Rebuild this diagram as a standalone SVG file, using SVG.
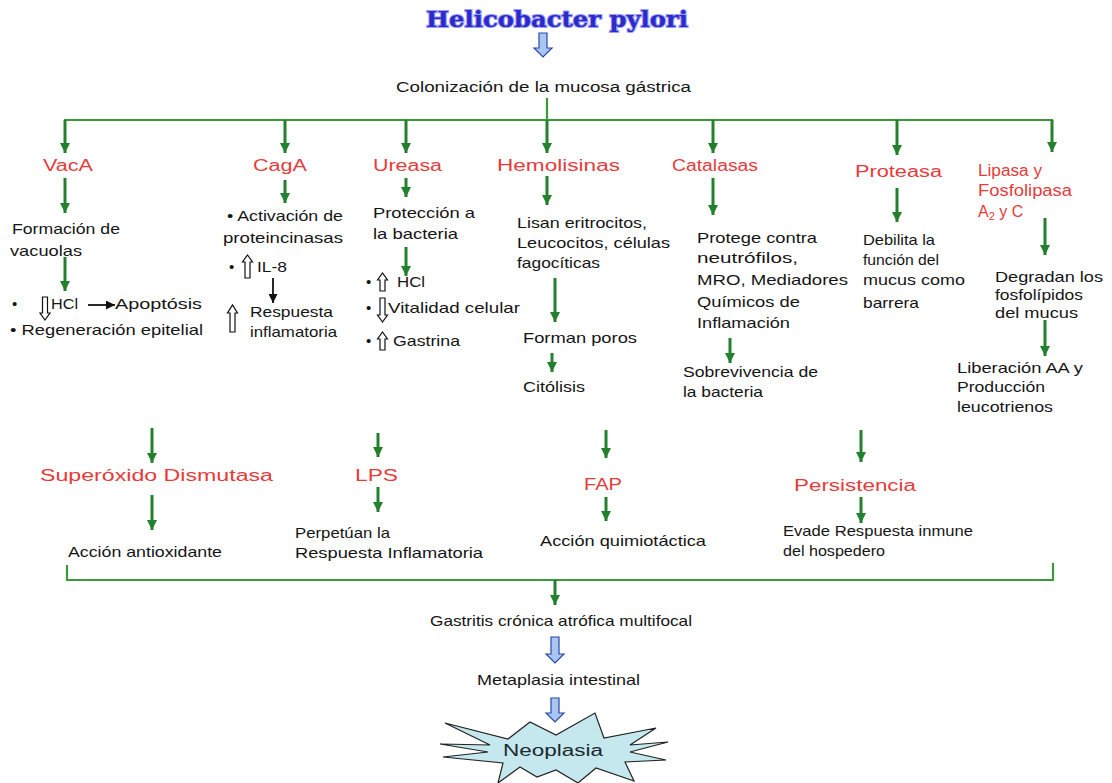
<svg xmlns="http://www.w3.org/2000/svg" width="1112" height="783" viewBox="0 0 1112 783">
<style>
.t{font-family:"Liberation Sans",Arial,sans-serif;font-size:15px;fill:#151515}
.r{font-family:"Liberation Sans",Arial,sans-serif;font-size:16px;fill:#e63b3b}
.g{stroke:#23802c;stroke-width:3;fill:none}
.gl{stroke:#3a9a3a;stroke-width:2.2;fill:none}
.k{stroke:#111;stroke-width:1.8;fill:none}
.ba{fill:#a9c6f2;stroke:#2a48a8;stroke-width:1.2}
.ha{fill:#fff;stroke:#111;stroke-width:1.2}
</style>
<defs>
<marker id="gh" viewBox="0 0 10 10" refX="10" refY="5" markerWidth="10" markerHeight="10" markerUnits="userSpaceOnUse" orient="auto"><path d="M0,0 L10,5 L0,10 z" fill="#23802c"/></marker>
<marker id="kh" viewBox="0 0 10 10" refX="10" refY="5" markerWidth="9" markerHeight="9" markerUnits="userSpaceOnUse" orient="auto"><path d="M0,0 L10,5 L0,10 z" fill="#111"/></marker>
</defs>
<rect width="1112" height="783" fill="#fff"/>

<g id="title">
<text x="426" y="27" textLength="262" lengthAdjust="spacingAndGlyphs" paint-order="stroke" style="font-family:'DejaVu Serif',serif;font-weight:bold;font-size:22px;fill:#2b2bc8;stroke:#9d9dff;stroke-width:2">Helicobacter pylori</text>
</g>
<g id="colonizacion">
<text class="t" x="396" y="92" textLength="295" lengthAdjust="spacingAndGlyphs" style="font-size:14px">Colonización de la mucosa gástrica</text>
</g>

<g id="connectors">
<polygon class="ba" points="539,33 547,33 547,48 552,48 543,57 534,48 539,48"/>
<line class="gl" x1="547" y1="98" x2="547" y2="120"/>
<line class="gl" x1="64" y1="120" x2="1053" y2="120"/>
<line class="g" x1="65" y1="120" x2="65" y2="153" marker-end="url(#gh)"/>
<line class="g" x1="285" y1="120" x2="285" y2="153" marker-end="url(#gh)"/>
<line class="g" x1="406" y1="120" x2="406" y2="153" marker-end="url(#gh)"/>
<line class="g" x1="547" y1="120" x2="547" y2="153" marker-end="url(#gh)"/>
<line class="g" x1="713" y1="120" x2="713" y2="153" marker-end="url(#gh)"/>
<line class="g" x1="897" y1="120" x2="897" y2="155" marker-end="url(#gh)"/>
<line class="g" x1="1052" y1="120" x2="1052" y2="152" marker-end="url(#gh)"/>

<line class="g" x1="65" y1="178" x2="65" y2="213" marker-end="url(#gh)"/>
<line class="g" x1="65" y1="257" x2="65" y2="291" marker-end="url(#gh)"/>
<line class="k" x1="88" y1="305" x2="115" y2="305" marker-end="url(#kh)"/>
<line class="g" x1="285" y1="180" x2="285" y2="203" marker-end="url(#gh)"/>
<line class="k" x1="273" y1="278" x2="273" y2="303" marker-end="url(#kh)"/>
<line class="g" x1="406" y1="178" x2="406" y2="197" marker-end="url(#gh)"/>
<line class="g" x1="406" y1="247" x2="406" y2="276" marker-end="url(#gh)"/>
<line class="g" x1="547" y1="176" x2="547" y2="205" marker-end="url(#gh)"/>
<line class="g" x1="555" y1="278" x2="555" y2="322" marker-end="url(#gh)"/>
<line class="g" x1="552" y1="353" x2="552" y2="372" marker-end="url(#gh)"/>
<line class="g" x1="713" y1="178" x2="713" y2="215" marker-end="url(#gh)"/>
<line class="g" x1="730" y1="338" x2="730" y2="363" marker-end="url(#gh)"/>
<line class="g" x1="897" y1="188" x2="897" y2="222" marker-end="url(#gh)"/>
<line class="g" x1="1045" y1="218" x2="1045" y2="255" marker-end="url(#gh)"/>
<line class="g" x1="1045" y1="320" x2="1045" y2="356" marker-end="url(#gh)"/>

<line class="g" x1="152" y1="428" x2="152" y2="463" marker-end="url(#gh)"/>
<line class="g" x1="378" y1="433" x2="378" y2="457" marker-end="url(#gh)"/>
<line class="g" x1="606" y1="430" x2="606" y2="458" marker-end="url(#gh)"/>
<line class="g" x1="861" y1="430" x2="861" y2="462" marker-end="url(#gh)"/>
<line class="g" x1="152" y1="495" x2="152" y2="530" marker-end="url(#gh)"/>
<line class="g" x1="378" y1="487" x2="378" y2="512" marker-end="url(#gh)"/>
<line class="g" x1="606" y1="497" x2="606" y2="521" marker-end="url(#gh)"/>
<line class="g" x1="861" y1="497" x2="861" y2="523" marker-end="url(#gh)"/>

<path class="gl" d="M67,565 V580 H1053 V563"/>
<line class="g" x1="555" y1="580" x2="555" y2="605" marker-end="url(#gh)"/>
<polygon class="ba" points="551,637 559,637 559,654 564,654 555,663 546,654 551,654"/>
<polygon class="ba" points="551,698 559,698 559,713 564,713 555,722 546,713 551,713"/>
</g>

<g id="vaca">
<text class="r" x="43" y="171" textLength="50" lengthAdjust="spacingAndGlyphs">VacA</text>
<text class="t" x="12" y="234" textLength="108" lengthAdjust="spacingAndGlyphs">Formación de</text>
<text class="t" x="10" y="256" textLength="72" lengthAdjust="spacingAndGlyphs">vacuolas</text>
<text class="t" x="12" y="309">•</text>
<polygon class="ha" points="42.5,297 47.5,297 47.5,313 50,313 45,320 40,313 42.5,313"/>
<text class="t" x="51" y="309" textLength="27" lengthAdjust="spacingAndGlyphs">HCl</text>
<text class="t" x="115" y="309" textLength="87" lengthAdjust="spacingAndGlyphs">Apoptósis</text>
<text class="t" x="10" y="335" textLength="193" lengthAdjust="spacingAndGlyphs">• Regeneración epitelial</text>
</g>

<g id="caga">
<text class="r" x="253" y="171" textLength="54" lengthAdjust="spacingAndGlyphs">CagA</text>
<text class="t" x="227" y="221" textLength="116" lengthAdjust="spacingAndGlyphs">• Activación de</text>
<text class="t" x="223" y="243" textLength="120" lengthAdjust="spacingAndGlyphs">proteincinasas</text>
<text class="t" x="229" y="272">•</text>
<polygon class="ha" points="245,278 250,278 250,262 252.5,262 247.5,255 242.5,262 245,262"/>
<text class="t" x="257" y="272" textLength="30" lengthAdjust="spacingAndGlyphs">IL-8</text>
<polygon class="ha" points="230,332 235,332 235,313 237.5,313 232.5,305 227.5,313 230,313"/>
<text class="t" x="250" y="317" textLength="83" lengthAdjust="spacingAndGlyphs">Respuesta</text>
<text class="t" x="250" y="337" textLength="87" lengthAdjust="spacingAndGlyphs">inflamatoria</text>
</g>

<g id="ureasa">
<text class="r" x="373" y="171" textLength="69" lengthAdjust="spacingAndGlyphs">Ureasa</text>
<text class="t" x="373" y="218" textLength="102" lengthAdjust="spacingAndGlyphs">Protección a</text>
<text class="t" x="373" y="239" textLength="85" lengthAdjust="spacingAndGlyphs">la bacteria</text>
<text class="t" x="366" y="287">•</text>
<polygon class="ha" points="380,291 385,291 385,280 387.5,280 382.5,273 377.5,280 380,280"/>
<text class="t" x="397" y="287" textLength="28" lengthAdjust="spacingAndGlyphs">HCl</text>
<text class="t" x="366" y="313">•</text>
<polygon class="ha" points="380,298 385,298 385,315 387.5,315 382.5,322 377.5,315 380,315"/>
<text class="t" x="388" y="313" textLength="132" lengthAdjust="spacingAndGlyphs">Vitalidad celular</text>
<text class="t" x="366" y="346">•</text>
<polygon class="ha" points="380,350 385,350 385,339 387.5,339 382.5,332 377.5,339 380,339"/>
<text class="t" x="393" y="346" textLength="67" lengthAdjust="spacingAndGlyphs">Gastrina</text>
</g>

<g id="hemolisinas">
<text class="r" x="497" y="171" textLength="123" lengthAdjust="spacingAndGlyphs">Hemolisinas</text>
<text class="t" x="517" y="228" textLength="130" lengthAdjust="spacingAndGlyphs">Lisan eritrocitos,</text>
<text class="t" x="517" y="248" textLength="153" lengthAdjust="spacingAndGlyphs">Leucocitos, células</text>
<text class="t" x="517" y="268" textLength="83" lengthAdjust="spacingAndGlyphs">fagocíticas</text>
<text class="t" x="523" y="343" textLength="114" lengthAdjust="spacingAndGlyphs">Forman poros</text>
<text class="t" x="523" y="392" textLength="62" lengthAdjust="spacingAndGlyphs">Citólisis</text>
</g>

<g id="catalasas">
<text class="r" x="672" y="171" textLength="86" lengthAdjust="spacingAndGlyphs">Catalasas</text>
<text class="t" x="697" y="243" textLength="120" lengthAdjust="spacingAndGlyphs">Protege contra</text>
<text class="t" x="697" y="263" textLength="101" lengthAdjust="spacingAndGlyphs">neutrófilos,</text>
<text class="t" x="697" y="285" textLength="151" lengthAdjust="spacingAndGlyphs">MRO, Mediadores</text>
<text class="t" x="697" y="307" textLength="103" lengthAdjust="spacingAndGlyphs">Químicos de</text>
<text class="t" x="697" y="328" textLength="93" lengthAdjust="spacingAndGlyphs">Inflamación</text>
<text class="t" x="683" y="377" textLength="135" lengthAdjust="spacingAndGlyphs">Sobrevivencia de</text>
<text class="t" x="683" y="397" textLength="80" lengthAdjust="spacingAndGlyphs">la bacteria</text>
</g>

<g id="proteasa">
<text class="r" x="855" y="177" textLength="87" lengthAdjust="spacingAndGlyphs">Proteasa</text>
<text class="t" x="863" y="245" textLength="72" lengthAdjust="spacingAndGlyphs">Debilita la</text>
<text class="t" x="863" y="265" textLength="76" lengthAdjust="spacingAndGlyphs">función del</text>
<text class="t" x="863" y="285" textLength="102" lengthAdjust="spacingAndGlyphs">mucus como</text>
<text class="t" x="863" y="308" textLength="56" lengthAdjust="spacingAndGlyphs">barrera</text>
</g>

<g id="lipasa">
<text class="r" x="978" y="176" textLength="64" lengthAdjust="spacingAndGlyphs">Lipasa y</text>
<text class="r" x="978" y="196" textLength="94" lengthAdjust="spacingAndGlyphs">Fosfolipasa</text>
<text class="r" x="978" y="217">A<tspan dy="3" style="font-size:11px">2</tspan><tspan dy="-3"> y C</tspan></text>
<text class="t" x="995" y="282" textLength="108" lengthAdjust="spacingAndGlyphs">Degradan los</text>
<text class="t" x="995" y="300" textLength="88" lengthAdjust="spacingAndGlyphs">fosfolípidos</text>
<text class="t" x="995" y="318" textLength="83" lengthAdjust="spacingAndGlyphs">del mucus</text>
<text class="t" x="957" y="373" textLength="126" lengthAdjust="spacingAndGlyphs">Liberación AA y</text>
<text class="t" x="957" y="392" textLength="88" lengthAdjust="spacingAndGlyphs">Producción</text>
<text class="t" x="957" y="412" textLength="96" lengthAdjust="spacingAndGlyphs">leucotrienos</text>
</g>

<g id="superoxido">
<text class="r" x="40" y="481" textLength="233" lengthAdjust="spacingAndGlyphs">Superóxido Dismutasa</text>
<text class="t" x="68" y="557" textLength="154" lengthAdjust="spacingAndGlyphs">Acción antioxidante</text>
</g>
<g id="lps">
<text class="r" x="355" y="481" textLength="43" lengthAdjust="spacingAndGlyphs">LPS</text>
<text class="t" x="295" y="538" textLength="95" lengthAdjust="spacingAndGlyphs">Perpetúan la</text>
<text class="t" x="295" y="558" textLength="188" lengthAdjust="spacingAndGlyphs">Respuesta Inflamatoria</text>
</g>
<g id="fap">
<text class="r" x="584" y="490" textLength="38" lengthAdjust="spacingAndGlyphs">FAP</text>
<text class="t" x="540" y="546" textLength="166" lengthAdjust="spacingAndGlyphs">Acción quimiotáctica</text>
</g>
<g id="persistencia">
<text class="r" x="794" y="491" textLength="122" lengthAdjust="spacingAndGlyphs">Persistencia</text>
<text class="t" x="783" y="536" textLength="190" lengthAdjust="spacingAndGlyphs">Evade Respuesta inmune</text>
<text class="t" x="783" y="556" textLength="102" lengthAdjust="spacingAndGlyphs">del hospedero</text>
</g>

<g id="gastritis">
<text class="t" x="430" y="626" textLength="262" lengthAdjust="spacingAndGlyphs">Gastritis crónica atrófica multifocal</text>
</g>
<g id="metaplasia">
<text class="t" x="477" y="685" textLength="163" lengthAdjust="spacingAndGlyphs">Metaplasia intestinal</text>
</g>
<g id="neoplasia">
<polygon points="445,723 508,739 530,722 556,735 595,713 604,738 656,728 630,745 668,742 630,752 666,760 625,762 634,781 596,768 578,783 556,770 537,777 520,767 498,783 503,763 443,757 488,752 440,744 490,745" fill="#c4e8ee" stroke="#222" stroke-width="1.2"/>
<text class="t" x="503" y="756" textLength="100" lengthAdjust="spacingAndGlyphs" style="font-size:16px;fill:#1c2a30">Neoplasia</text>
</g>
</svg>
